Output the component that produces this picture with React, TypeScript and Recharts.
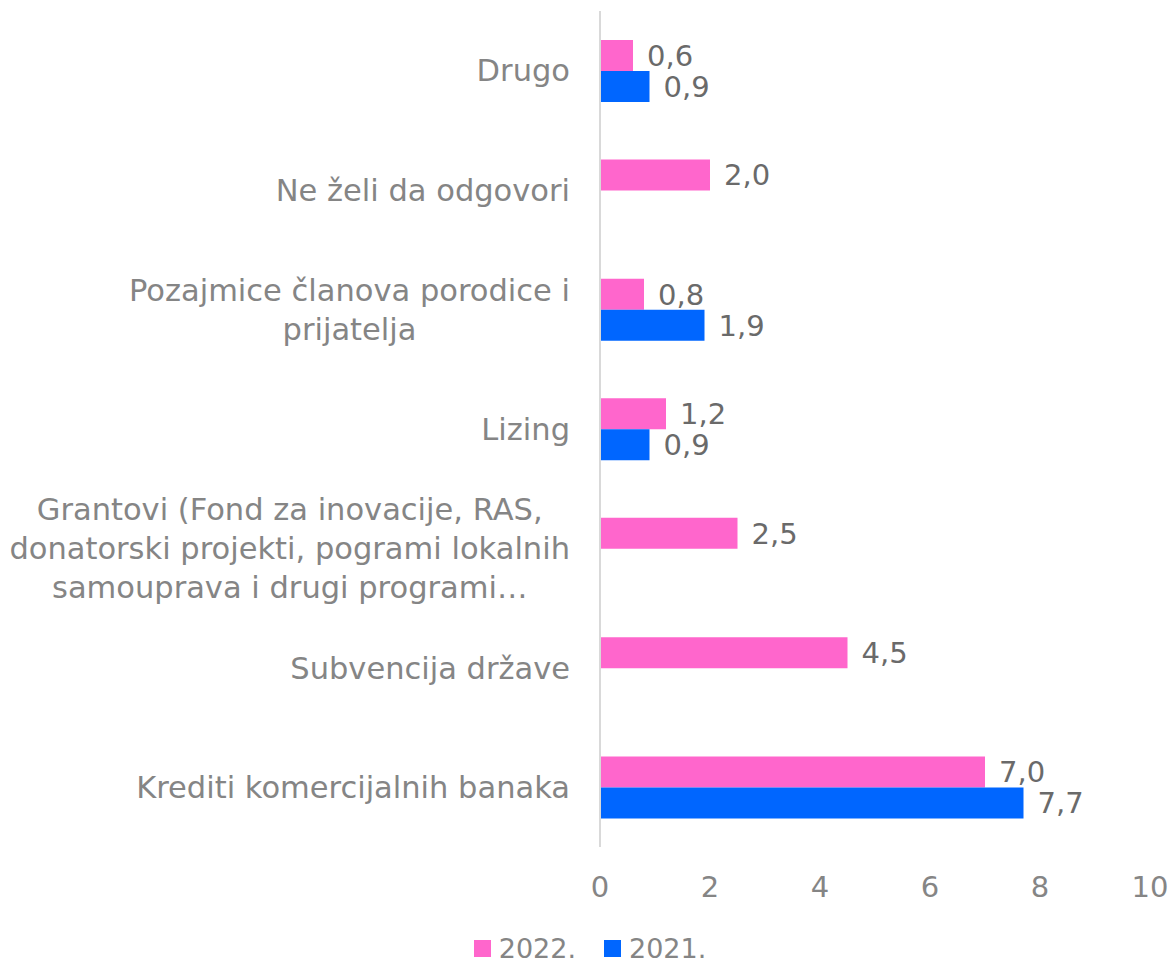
import React from 'react';
import { BarChart, Bar, XAxis, YAxis, Legend, LabelList } from 'recharts';

const categoryLines = [
  ['Drugo'],
  ['Ne želi da odgovori'],
  ['Pozajmice članova porodice i', 'prijatelja'],
  ['Lizing'],
  ['Grantovi (Fond za inovacije, RAS,', 'donatorski projekti, pogrami lokalnih', 'samouprava i drugi programi…'],
  ['Subvencija države'],
  ['Krediti komercijalnih banaka'],
];
const values2022 = [0.6, 2.0, 0.8, 1.2, 2.5, 4.5, 7.0];
const values2021 = [0.9, null, 1.9, 0.9, null, null, 7.7];
const xTicks = [0, 2, 4, 6, 8, 10];

const FONT = '"DejaVu Sans", sans-serif';
const CAT_FS = 30.5;
const VAL_FS = 29;
const LEG_FS = 27;
const PINK = '#FF66CC';
const BLUE = '#0066FF';
const TEXT = '#858585';

const data = categoryLines.map((lines, i) => ({
  name: lines.join(' '),
  y2022: values2022[i],
  y2021: values2021[i],
}));

let ctx: CanvasRenderingContext2D | null = null;
function measure(t: string) {
  if (!ctx) ctx = document.createElement('canvas').getContext('2d');
  if (!ctx) return t.length * CAT_FS * 0.55;
  ctx.font = `${CAT_FS}px ${FONT}`;
  return ctx.measureText(t).width;
}

function CategoryTick({ x, y, payload }: any) {
  const lines = categoryLines.find((l) => l.join(' ') === payload.value) || [payload.value];
  const widths = lines.map(measure);
  const maxW = Math.max(...widths);
  const right = x - 22;
  const cx = right - maxW / 2;
  const lh = 39;
  const start = y - ((lines.length - 1) * lh) / 2;
  return (
    <g>
      {lines.map((l, i) => (
        <text key={i} x={cx} y={start + i * lh} dy="0.35em" textAnchor="middle" fill={TEXT} fontSize={CAT_FS} fontFamily={FONT}>
          {l}
        </text>
      ))}
    </g>
  );
}

const fmt = (v: any) => (v == null ? '' : Number(v).toFixed(1).replace('.', ','));

function LegendContent() {
  const items = [
    { label: '2022.', color: PINK },
    { label: '2021.', color: BLUE },
  ];
  return (
    <div style={{ display: 'flex', justifyContent: 'center', gap: 28, fontFamily: FONT, fontSize: LEG_FS, color: TEXT, paddingLeft: 30, paddingTop: 6 }}>
      {items.map((it) => (
        <div key={it.label} style={{ display: 'flex', alignItems: 'center', gap: 8 }}>
          <span style={{ width: 17, height: 17, background: it.color, display: 'inline-block' }} />
          <span>{it.label}</span>
        </div>
      ))}
    </div>
  );
}

export default function App() {
  return (
    <div style={{ width: 1170, height: 963, background: '#fff' }}>
      <style>{`body{margin:0}`}</style>
      <BarChart
        width={1170}
        height={963}
        data={data}
        layout="vertical"
        margin={{ top: 11, right: 20, bottom: 0, left: 0 }}
        barGap={0}
        barSize={31}
      >
        <XAxis
          type="number"
          domain={[0, 10]}
          ticks={xTicks}
          axisLine={false}
          tickLine={false}
          tickMargin={23}
          height={80}
          tick={{ fill: TEXT, fontSize: VAL_FS, fontFamily: FONT }}
        />
        <YAxis
          type="category"
          dataKey="name"
          width={600}
          axisLine={{ stroke: '#d9d9d9', strokeWidth: 2 }}
          tickLine={false}
          tick={<CategoryTick />}
          interval={0}
        />
        <Legend verticalAlign="bottom" height={36} content={<LegendContent />} />
        <Bar dataKey="y2022" name="2022." fill={PINK} isAnimationActive={false}>
          <LabelList dataKey="y2022" position="right" offset={14} formatter={fmt} fill="#6a6a6a" fontSize={VAL_FS} fontFamily={FONT} />
        </Bar>
        <Bar dataKey="y2021" name="2021." fill={BLUE} isAnimationActive={false}>
          <LabelList dataKey="y2021" position="right" offset={14} formatter={fmt} fill="#6a6a6a" fontSize={VAL_FS} fontFamily={FONT} />
        </Bar>
      </BarChart>
    </div>
  );
}
